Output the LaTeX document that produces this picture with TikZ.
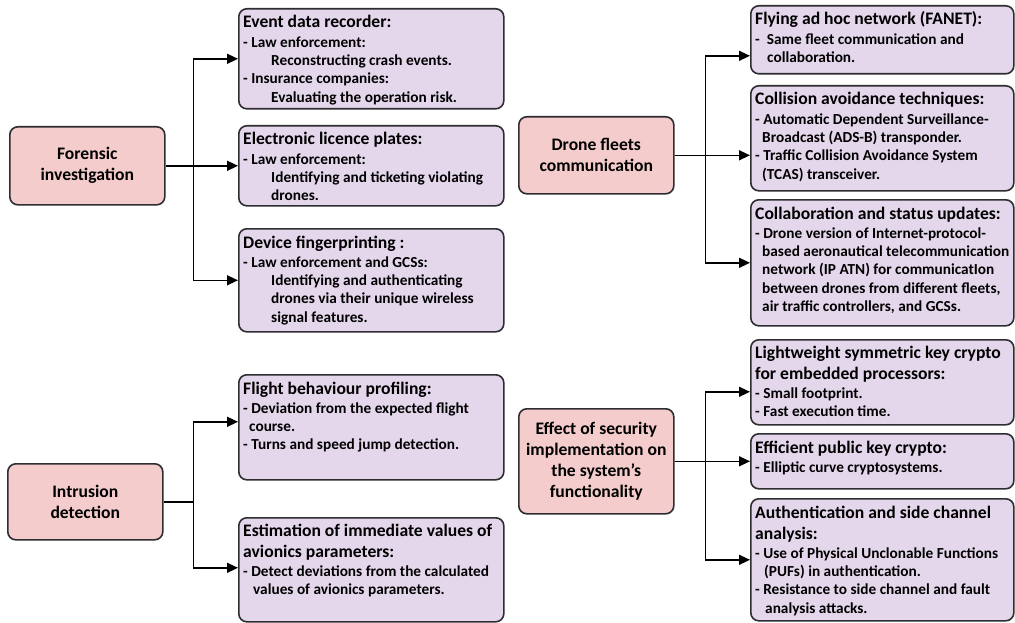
\documentclass[tikz,border=0pt]{standalone}
\usepackage{fontspec}
\setmainfont{Carlito}
\usetikzlibrary{arrows.meta}
\definecolor{pinkfill}{RGB}{244,204,204}
\definecolor{lilac}{RGB}{228,215,235}
\definecolor{edgecol}{RGB}{45,45,50}
\newcommand\tfont{\fontsize{17.6}{21}\selectfont\bfseries}
\newcommand\bfont{\fontsize{15.3}{18.3}\selectfont\bfseries}
\newcommand\myind[1]{\hspace*{#1pt}}
\newcommand\boxtext[1]{\parbox[t]{262pt}{\raggedright #1}}
\tikzset{
  cbox/.style={draw=edgecol, line width=1.6pt, rounded corners=8pt, inner sep=0pt, anchor=north west},
  parentbox/.style={cbox, fill=pinkfill, align=center, font=\tfont},
  childbox/.style={cbox, fill=lilac},
  txt/.style={anchor=base west, inner sep=0pt},
  arr/.style={draw=black, line width=1.5pt, -{Triangle[length=11pt,width=10pt]}},
}
\begin{document}
\begin{tikzpicture}[x=1pt,y=-1pt]
\useasboundingbox (0,0) rectangle (1015,623);

% ---------- Forensic investigation ----------
\node[parentbox, minimum width=155pt, minimum height=78pt] (forensic) at (9,126) {Forensic\\investigation};
\node[childbox, minimum width=265pt, minimum height=100pt] (edr) at (238,8) {};
\node[childbox, minimum width=265pt, minimum height=80pt] (elp) at (238,125) {};
\node[childbox, minimum width=265pt, minimum height=103pt] (dfp) at (238,228) {};

\node[txt] (edrT) at ([xshift=5pt,yshift=-20pt]edr.north west) {\boxtext{\tfont Event data recorder:\par\vspace{1pt}\bfont
- Law enforcement:\\
\myind{28}Reconstructing crash events.\\
- Insurance companies:\\
\myind{28}Evaluating the operation risk.}};
\node[txt] (elpT) at ([xshift=5pt,yshift=-20pt]elp.north west) {\boxtext{\tfont Electronic licence plates:\par\vspace{1pt}\bfont
- Law enforcement:\\
\myind{28}Identifying and ticketing violating\\
\myind{28}drones.}};
\node[txt] (dfpT) at ([xshift=5pt,yshift=-20pt]dfp.north west) {\boxtext{\tfont Device fingerprinting :\par\vspace{1pt}\bfont
- Law enforcement and GCSs:\\
\myind{28}Identifying and authenticating\\
\myind{28}drones via their unique wireless\\
\myind{28}signal features.}};

\draw[arr] (forensic.east) -- ++(28,0) |- (edr.west);
\draw[arr] (forensic.east) -- (elp.west);
\draw[arr] (forensic.east) -- ++(28,0) |- (dfp.west);

% ---------- Intrusion detection ----------
\node[parentbox, minimum width=155pt, minimum height=76pt] (intr) at (7,463) {Intrusion\\detection};
\node[childbox, minimum width=265pt, minimum height=105pt] (fbp) at (238,374) {};
\node[childbox, minimum width=265pt, minimum height=104pt] (est) at (238,517) {};

\node[txt] (fbpT) at ([xshift=5pt,yshift=-20pt]fbp.north west) {\boxtext{\tfont Flight behaviour profiling:\par\vspace{1pt}\bfont
- Deviation from the expected flight\\
\myind{6}course.\\
- Turns and speed jump detection.}};
\node[txt] (estT) at ([xshift=5pt,yshift=-19pt]est.north west) {\boxtext{\tfont Estimation of immediate values of\\
avionics parameters:\par\vspace{1pt}\bfont
- Detect deviations from the calculated\\
\myind{10}values of avionics parameters.}};

\draw[arr] (intr.east) -- ++(30,0) |- ([yshift=5.5pt]fbp.west);
\draw[arr] (intr.east) -- ++(30,0) |- ([yshift=2pt]est.west);

% ---------- Drone fleets communication ----------
\node[parentbox, minimum width=155pt, minimum height=77pt] (drone) at (518,116) {Drone fleets\\communication};
\node[childbox, minimum width=263pt, minimum height=68pt] (fanet) at (750,5) {};
\node[childbox, minimum width=263pt, minimum height=105pt] (cat) at (750,85) {};
\node[childbox, minimum width=263pt, minimum height=126pt] (csu) at (750,199) {};

\node[txt] (fanetT) at ([xshift=5pt,yshift=-20pt]fanet.north west) {\boxtext{\tfont Flying ad hoc network (FANET):\par\vspace{1pt}\bfont
-\hspace{7pt}Same fleet communication and\\
\myind{12}collaboration.}};
\node[txt] (catT) at ([xshift=5pt,yshift=-20pt]cat.north west) {\boxtext{\tfont Collision avoidance techniques:\par\vspace{1pt}\bfont
- Automatic Dependent Surveillance-\\
\myind{7}Broadcast (ADS-B) transponder.\\
- Traffic Collision Avoidance System\\
\myind{7}(TCAS) transceiver.}};
\node[txt] (csuT) at ([xshift=5pt,yshift=-20pt]csu.north west) {\boxtext{\tfont Collaboration and status updates:\par\vspace{1pt}\bfont
- Drone version of Internet-protocol-\\
\myind{7}based aeronautical telecommunication\\
\myind{7}network (IP ATN) for communicatIon\\
\myind{7}between drones from different fleets,\\
\myind{7}air traffic controllers, and GCSs.}};

\draw[arr] (drone.east) -- ++(31,0) |- ([yshift=-16pt]fanet.west);
\draw[arr] (drone.east) -- (drone.east -| cat.west);
\draw[arr] (drone.east) -- ++(31,0) |- (csu.west);

% ---------- Effect of security implementation ----------
\node[parentbox, minimum width=155pt, minimum height=105pt] (effect) at (518,408) {Effect of security\\implementation on\\the system’s\\functionality};
\node[childbox, minimum width=263pt, minimum height=85pt] (lsk) at (750,339) {};
\node[childbox, minimum width=263pt, minimum height=55pt] (epk) at (750,433) {};
\node[childbox, minimum width=263pt, minimum height=122pt] (auth) at (750,498) {};

\node[txt] (lskT) at ([xshift=5pt,yshift=-19pt]lsk.north west) {\boxtext{\tfont Lightweight symmetric key crypto\\
for embedded processors:\par\vspace{1pt}\bfont
- Small footprint.\\
- Fast execution time.}};
\node[txt] (epkT) at ([xshift=5pt,yshift=-20pt]epk.north west) {\boxtext{\tfont Efficient public key crypto:\par\vspace{1pt}\bfont
- Elliptic curve cryptosystems.}};
\node[txt] (authT) at ([xshift=5pt,yshift=-20pt]auth.north west) {\boxtext{\tfont Authentication and side channel\\
analysis:\par\vspace{1pt}\bfont
- Use of Physical Unclonable Functions\\
\myind{9}(PUFs) in authentication.\\
- Resistance to side channel and fault\\
\myind{10}analysis attacks.}};

\draw[arr] (effect.east) -- ++(31,0) |- ([yshift=-9.5pt]lsk.west);
\draw[arr] (effect.east) -- (effect.east -| epk.west);
\draw[arr] (effect.east) -- ++(31,0) |- (auth.west);
\end{tikzpicture}
\end{document}
